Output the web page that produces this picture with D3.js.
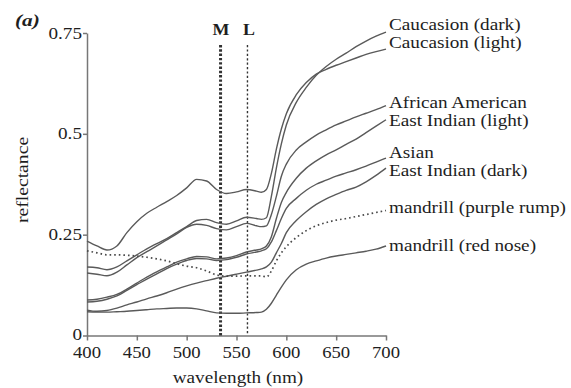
<!DOCTYPE html>
<html>
<head>
<meta charset="utf-8">
<script src="https://cdn.jsdelivr.net/npm/d3@7"></script>
<style>
  body { margin: 0; background: #fff; }
  text { font-family: "Liberation Serif", "Times New Roman", serif; fill: #1e1e1e; }
</style>
</head>
<body>
<svg id="chart" width="571" height="388"></svg>
<script>
// Wavelength grid (nm) shared by every reflectance spectrum
const wavelengths = [400,410,420,430,440,450,460,470,480,490,500,510,520,530,540,550,560,570,575,580,585,590,595,600,610,620,630,640,650,660,670,680,690,700];

// Reflectance spectra, one value per wavelength
const caucasianDark = [0.170,0.168,0.163,0.170,0.185,0.200,0.215,0.228,0.240,0.255,0.270,0.285,0.288,0.280,0.276,0.284,0.293,0.290,0.288,0.292,0.345,0.415,0.475,0.522,0.578,0.615,0.645,0.667,0.685,0.700,0.716,0.730,0.742,0.752];
const caucasianLight = [0.234,0.222,0.212,0.222,0.255,0.282,0.303,0.318,0.332,0.347,0.366,0.387,0.383,0.362,0.352,0.356,0.362,0.358,0.355,0.362,0.402,0.462,0.512,0.550,0.597,0.627,0.648,0.660,0.670,0.679,0.688,0.697,0.704,0.710];
const africanAmerican = [0.155,0.152,0.148,0.157,0.175,0.193,0.208,0.222,0.237,0.252,0.268,0.276,0.273,0.265,0.262,0.270,0.278,0.272,0.270,0.272,0.300,0.345,0.395,0.425,0.460,0.480,0.497,0.510,0.522,0.532,0.542,0.551,0.560,0.570];
const eastIndianLight = [0.088,0.090,0.095,0.102,0.115,0.130,0.145,0.158,0.170,0.182,0.190,0.196,0.195,0.190,0.192,0.198,0.207,0.212,0.215,0.222,0.245,0.290,0.330,0.355,0.390,0.415,0.433,0.448,0.460,0.474,0.487,0.503,0.519,0.535];
const asian = [0.083,0.085,0.090,0.098,0.112,0.126,0.140,0.153,0.166,0.177,0.186,0.191,0.190,0.186,0.188,0.194,0.202,0.207,0.210,0.215,0.232,0.260,0.290,0.315,0.340,0.360,0.375,0.385,0.395,0.403,0.411,0.420,0.430,0.440];
const eastIndianDark = [0.063,0.060,0.062,0.068,0.076,0.083,0.091,0.098,0.106,0.115,0.123,0.130,0.136,0.142,0.147,0.152,0.157,0.162,0.165,0.170,0.182,0.205,0.228,0.255,0.285,0.307,0.325,0.339,0.350,0.360,0.368,0.381,0.397,0.415];
const mandrillPurpleRump = [0.210,0.205,0.200,0.200,0.199,0.197,0.194,0.190,0.185,0.178,0.172,0.168,0.160,0.150,0.147,0.147,0.148,0.148,0.148,0.145,0.160,0.185,0.205,0.220,0.243,0.260,0.272,0.280,0.286,0.290,0.295,0.300,0.305,0.310];
const mandrillRedNose = [0.059,0.058,0.058,0.059,0.060,0.062,0.064,0.066,0.067,0.068,0.068,0.066,0.061,0.056,0.055,0.055,0.056,0.057,0.058,0.065,0.080,0.100,0.120,0.138,0.163,0.177,0.185,0.192,0.197,0.201,0.205,0.209,0.214,0.222];

const seriesNames = ["Caucasion (dark)","Caucasion (light)","African American","East Indian (light)","Asian","East Indian (dark)","mandrill (purple rump)","mandrill (red nose)"];
const seriesValues = [caucasianDark, caucasianLight, africanAmerican, eastIndianLight, asian, eastIndianDark, mandrillPurpleRump, mandrillRedNose];

// Cone peak sensitivities marked by vertical lines
const coneNames = ["M","L"];
const conePeaks = [534, 561];

// Axis ticks
const xTicks = [400,450,500,550,600,650,700];
const yTicks = [0,0.25,0.5,0.75];
const yTickLabels = ["0","0.25","0.5","0.75"];

const svg = d3.select("#chart");
const x = d3.scaleLinear().domain([400,700]).range([87,386]);
const y = d3.scaleLinear().domain([0,0.75]).range([335.5,33]);

const axisColor = "#777";
const lineColor = "#5a5a5a";

// Text with a mild horizontal stretch along its own baseline
function label(g, tx, ty, str, opts = {}) {
  const t = g.append("text")
    .attr("transform", `translate(${tx},${ty})${opts.rotate ? ` rotate(${opts.rotate})` : ""} scale(${opts.sx || 1.2},1)`)
    .attr("text-anchor", opts.anchor || "start")
    .style("font-size", (opts.size || 16) + "px")
    .text(str);
  if (opts.weight) t.style("font-weight", opts.weight);
  if (opts.italic) t.style("font-style", "italic");
  return t;
}

// Axes
const yAxis = svg.append("g").attr("transform", `translate(${x(400)},0)`)
  .call(d3.axisLeft(y).tickValues(yTicks).tickFormat("").tickSize(4).tickSizeOuter(0));
const xAxis = svg.append("g").attr("transform", `translate(0,${y(0)})`)
  .call(d3.axisBottom(x).tickValues(xTicks).tickFormat("").tickSize(5).tickSizeOuter(0));
[yAxis, xAxis].forEach(a => {
  a.selectAll("path, line").attr("stroke", axisColor).attr("stroke-width", 1.5);
});

const tickText = svg.append("g");
yTicks.forEach((v, i) => label(tickText, x(400) - 5, y(v) + (v === 0 ? 4.5 : 5.5), yTickLabels[i], {anchor: "end", size: 17, sx: 1.13}));
xTicks.forEach(v => label(tickText, x(v), y(0) + 22, String(v), {anchor: "middle", size: 17, sx: 1.1}));

// Axis titles and panel letter
label(svg, 238, 383, "wavelength (nm)", {anchor: "middle", size: 16, sx: 1.2});
label(svg, 28, 180, "reflectance", {anchor: "middle", size: 16, sx: 1.23, rotate: -90});
label(svg, 15, 26, "(a)", {size: 17, sx: 1.25, weight: "bold", italic: true});

// Cone peak lines
const coneStyles = [
  {width: 3, dash: "2.4,1.9"},
  {width: 1.4, dash: "2.2,2.2"}
];
conePeaks.forEach((nm, i) => {
  svg.append("line")
    .attr("x1", x(nm)).attr("x2", x(nm))
    .attr("y1", 45).attr("y2", y(0))
    .attr("stroke", "#333")
    .attr("stroke-width", coneStyles[i].width)
    .attr("stroke-dasharray", coneStyles[i].dash);
  label(svg, x(nm) + (i === 0 ? 0.5 : 1.5), 35, coneNames[i], {anchor: "middle", size: 16, sx: 1.12, weight: "bold"});
});

// Spectra
const line = d3.line()
  .x((d, i) => x(wavelengths[i]))
  .y(d => y(d))
  .curve(d3.curveMonotoneX);

const curves = svg.append("g").attr("fill", "none");
seriesValues.forEach((vals, i) => {
  const p = curves.append("path")
    .attr("d", line(vals))
    .attr("stroke", lineColor)
    .attr("stroke-width", 1.4);
  if (seriesNames[i] === "mandrill (purple rump)") {
    p.attr("stroke-dasharray", "1.6,3").attr("stroke-width", 1.7).attr("stroke", "#4a4a4a");
  }
});

// Series labels at the right end of each spectrum
const labelNudge = [-2.4, -1.4, 2.2, 6, 0, 7.7, 2.5, 5];
const labels = svg.append("g");
seriesValues.forEach((vals, i) => {
  const yEnd = y(vals[vals.length - 1]);
  label(labels, 389, yEnd + labelNudge[i], seriesNames[i], {size: 16, sx: 1.2});
});
</script>
</body>
</html>
